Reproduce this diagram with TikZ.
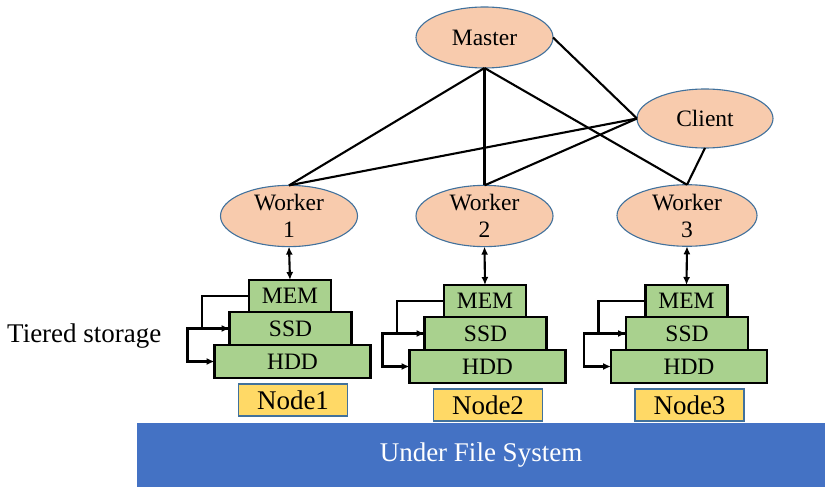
\documentclass[tikz,border=0pt]{standalone}
\usepackage{fontspec}
\setmainfont{Liberation Serif}
\usetikzlibrary{shapes.geometric,arrows.meta}
\definecolor{ellfill}{HTML}{F8CBAD}
\definecolor{ellline}{HTML}{41719C}
\definecolor{grn}{HTML}{A9D18E}
\definecolor{ylw}{HTML}{FFD966}
\definecolor{ufs}{HTML}{4472C4}
\begin{document}
\begin{tikzpicture}[x=1pt,y=-1pt,
  ell/.style={ellipse,draw=ellline,line width=1.1pt,fill=ellfill,inner sep=0pt,outer sep=0pt,
    minimum width=137pt,minimum height=61pt,align=center,
    font=\fontsize{23.5}{27}\selectfont},
  tier/.style={rectangle,draw=black,line width=2.3pt,fill=grn,inner sep=0pt,outer sep=0pt,
    minimum height=33pt,font=\fontsize{23.5}{26}\selectfont},
  nodebox/.style={rectangle,draw=ellline,line width=1.1pt,fill=ylw,inner sep=0pt,outer sep=0pt,
    minimum width=109pt,minimum height=32pt,font=\fontsize{27}{30}\selectfont},
  conn/.style={line width=2.1pt},
  arr/.style={line width=2.1pt,-{Latex[length=8pt,width=7pt]}},
  darr/.style={line width=2.1pt,{Latex[length=8pt,width=7pt]}-{Latex[length=8pt,width=7pt]}}
]
\useasboundingbox (0,0) rectangle (825,487);

% Under file system
\node[rectangle,fill=ufs,draw=ufs,inner sep=0pt,minimum width=688pt,minimum height=64pt,
  text=white,font=\fontsize{27}{30}\selectfont] (ufs) at (481,455) {Under File System};

\node[font=\fontsize{27}{30}\selectfont,anchor=west,inner sep=0pt] (tiered) at (7,336) {Tiered storage};

% Top nodes
\node[ell] (master) at (484.5,37.5) {Master};
\node[ell,minimum width=136pt,minimum height=59pt] (client) at (705,118.5) {Client};
\node[ell] (w1) at (289,216) {Worker\\1};
\node[ell] (w2) at (484.5,216) {Worker\\2};
\node[ell,minimum width=140pt] (w3) at (687,215.5) {Worker\\3};

% stacks
\foreach \i/\x/\y in {1/290/296, 2/485/301, 3/686.5/301}{
  \node[tier,minimum width=82pt,minimum height=32pt] (mem\i) at (\x,\y) {MEM};
  \node[tier,minimum width=122pt,anchor=north] (ssd\i) at ([xshift=0.5pt]mem\i.south) {SSD};
  \node[tier,minimum width=156pt,anchor=north] (hdd\i) at ([xshift=2pt]ssd\i.south) {HDD};
  \node[nodebox,anchor=north] (n\i) at ([xshift=0.5pt,yshift=-6pt]hdd\i.south) {Node\i};
  \draw[arr] (mem\i.west) -- ++(-47,0) |- (ssd\i.west);
  \draw[arr] (ssd\i.west) -- ++(-42,0) |- (hdd\i.west);
}
\draw[darr] (w1.south) -- (mem1.north);
\draw[darr] (w2.south) -- (mem2.north);
\draw[darr] (w3.south) -- (mem3.north);

% connectors
\draw[conn] (master.south) -- (w1.north);
\draw[conn] (master.south) -- (w2.north);
\draw[conn] (master.south) -- (w3.north);
\draw[conn] (master.east) -- (client.west);
\draw[conn] (client.west) -- (w1.north);
\draw[conn] (client.west) -- (w2.north);
\draw[conn] (client.south) -- (w3.north);
\end{tikzpicture}
\end{document}
